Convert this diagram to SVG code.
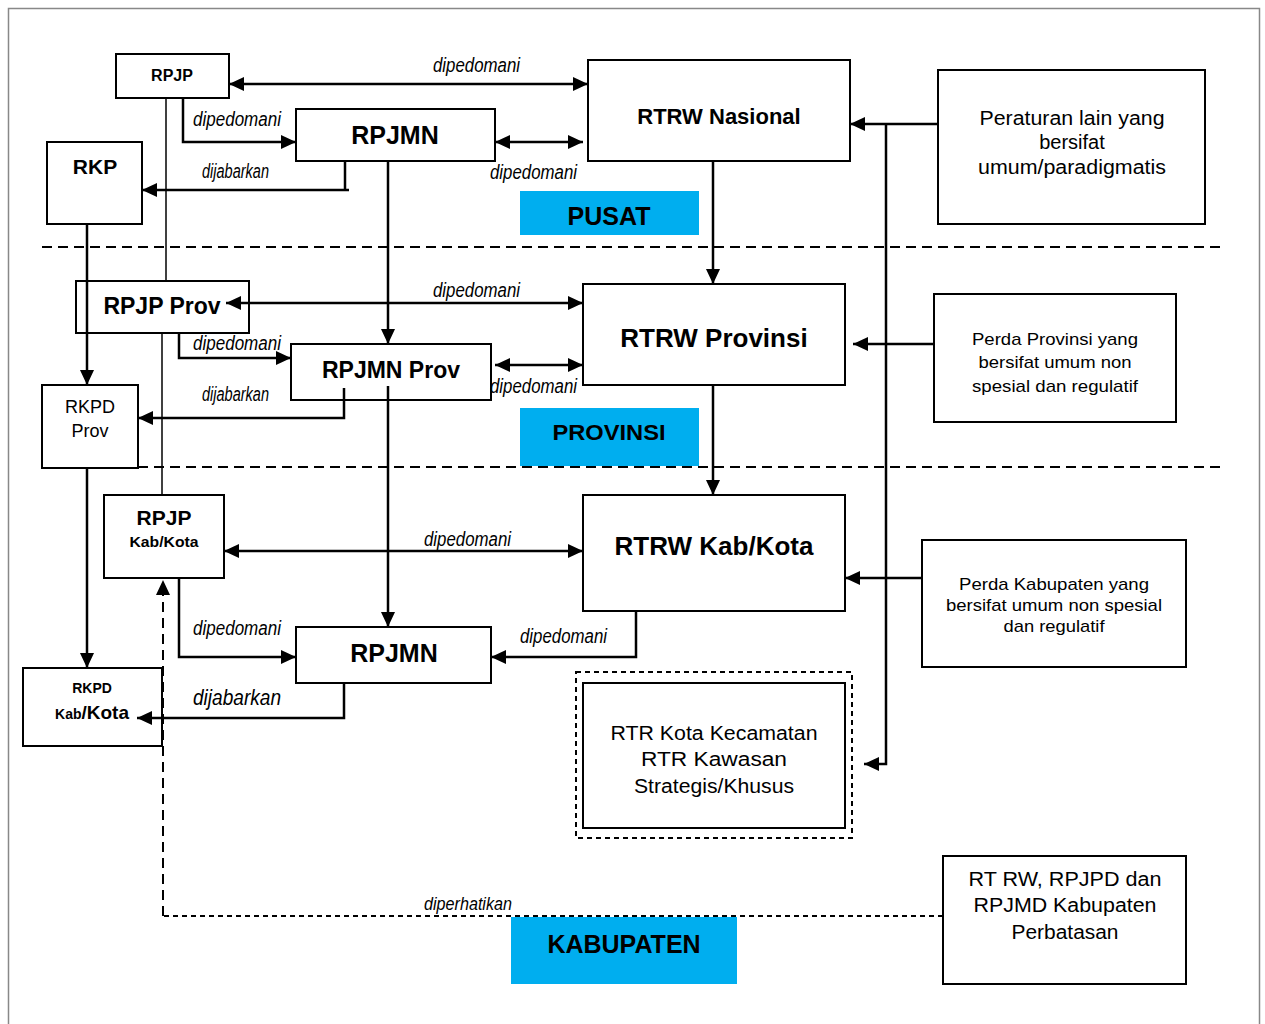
<svg xmlns="http://www.w3.org/2000/svg" width="1265" height="1024" viewBox="0 0 1265 1024">
<style>
.box{fill:#fff;stroke:#000;stroke-width:2}
.blue{fill:#00AEEF}
.t{font-family:"Liberation Sans",Arial,sans-serif;fill:#000;text-anchor:middle}
.b{font-weight:bold}
.lbl{font-family:"Liberation Sans",Arial,sans-serif;font-style:italic;font-size:20px;fill:#000}
.c{fill:none;stroke:#000;stroke-width:2.5}
.thin{fill:none;stroke:#000;stroke-width:1.5}
.dash{fill:none;stroke:#000;stroke-width:2;stroke-dasharray:10 6}
</style>
<defs>
<marker id="a" markerUnits="userSpaceOnUse" markerWidth="16" markerHeight="14" refX="15" refY="7" orient="auto-start-reverse">
<path d="M0,0 L15,7 L0,14 z" fill="#000"/>
</marker>
</defs>
<rect x="8.5" y="8.5" width="1251" height="1030" fill="#fff" stroke="#888" stroke-width="1.5"/>
<line class="dash" x1="42" y1="247" x2="1222" y2="247"/>
<line class="dash" x1="138" y1="467" x2="1222" y2="467"/>

<g id="rpjp"><rect class="box" x="116" y="54" width="113" height="44"/><text class="t b" x="172" y="81" font-size="16">RPJP</text></g>
<g id="rtrw-nasional"><rect class="box" x="588" y="60" width="262" height="101"/><text class="t b" x="719" y="124" font-size="22">RTRW Nasional</text></g>
<g id="rpjmn-pusat"><rect class="box" x="296" y="109" width="199" height="52"/><text class="t b" x="395" y="144" font-size="25">RPJMN</text></g>
<g id="rkp"><rect class="box" x="47" y="142" width="95" height="82"/><text class="t b" x="95" y="174" font-size="21">RKP</text></g>
<g id="peraturan"><rect class="box" x="938" y="70" width="267" height="154"/>
<text class="t" font-size="20"><tspan x="1072" y="125" textLength="185" lengthAdjust="spacingAndGlyphs">Peraturan lain yang</tspan><tspan x="1072" y="149">bersifat</tspan><tspan x="1072" y="174" textLength="188" lengthAdjust="spacingAndGlyphs">umum/paradigmatis</tspan></text></g>
<g id="pusat"><rect class="blue" x="520" y="191" width="179" height="44"/><text class="t b" x="609" y="225" font-size="25">PUSAT</text></g>

<g id="rpjp-prov"><rect class="box" x="76" y="281" width="173" height="52"/><text class="t b" x="162" y="314" font-size="23">RPJP Prov</text></g>
<g id="rtrw-provinsi"><rect class="box" x="583" y="284" width="262" height="101"/><text class="t b" x="714" y="347" font-size="26">RTRW Provinsi</text></g>
<g id="rpjmn-prov"><rect class="box" x="291" y="344" width="200" height="56"/><text class="t b" x="391" y="378" font-size="23">RPJMN Prov</text></g>
<g id="rkpd-prov"><rect class="box" x="42" y="385" width="96" height="83"/><text class="t" font-size="18"><tspan x="90" y="413">RKPD</tspan><tspan x="90" y="437">Prov</tspan></text></g>
<g id="perda-prov"><rect class="box" x="934" y="294" width="242" height="128"/>
<text class="t" font-size="17"><tspan x="1055" y="345" textLength="166" lengthAdjust="spacingAndGlyphs">Perda Provinsi yang</tspan><tspan x="1055" y="368" textLength="153" lengthAdjust="spacingAndGlyphs">bersifat umum non</tspan><tspan x="1055" y="392" textLength="166" lengthAdjust="spacingAndGlyphs">spesial dan regulatif</tspan></text></g>
<g id="provinsi"><rect class="blue" x="520" y="408" width="179" height="58"/><text class="t b" x="609" y="440" font-size="22" textLength="113" lengthAdjust="spacingAndGlyphs">PROVINSI</text></g>

<g id="rpjp-kab"><rect class="box" x="104" y="495" width="120" height="83"/><text class="t b" x="164" y="525" font-size="21">RPJP</text><text class="t b" x="164" y="547" font-size="14" textLength="69" lengthAdjust="spacingAndGlyphs">Kab/Kota</text></g>
<g id="rtrw-kab"><rect class="box" x="583" y="495" width="262" height="116"/><text class="t b" x="714" y="555" font-size="26">RTRW Kab/Kota</text></g>
<g id="perda-kab"><rect class="box" x="922" y="540" width="264" height="127"/>
<text class="t" font-size="17"><tspan x="1054" y="590" textLength="190" lengthAdjust="spacingAndGlyphs">Perda Kabupaten yang</tspan><tspan x="1054" y="611" textLength="216" lengthAdjust="spacingAndGlyphs">bersifat umum non spesial</tspan><tspan x="1054" y="632" textLength="101" lengthAdjust="spacingAndGlyphs">dan regulatif</tspan></text></g>
<g id="rpjmn-kab"><rect class="box" x="296" y="627" width="195" height="56"/><text class="t b" x="394" y="662" font-size="25">RPJMN</text></g>
<g id="rkpd-kab"><rect class="box" x="23" y="668" width="139" height="78"/><text class="t b" x="92" y="693" font-size="14">RKPD</text><text class="t b" x="92" y="719"><tspan font-size="14">Kab</tspan><tspan font-size="19">/Kota</tspan></text></g>
<g id="rtr-kota"><rect x="576" y="672" width="276" height="166" fill="none" stroke="#000" stroke-width="2" stroke-dasharray="5 4"/><rect class="box" x="583" y="683" width="262" height="145"/>
<text class="t" font-size="20"><tspan x="714" y="740" textLength="207" lengthAdjust="spacingAndGlyphs">RTR Kota Kecamatan</tspan><tspan x="714" y="766" textLength="146" lengthAdjust="spacingAndGlyphs">RTR Kawasan</tspan><tspan x="714" y="793" textLength="160" lengthAdjust="spacingAndGlyphs">Strategis/Khusus</tspan></text></g>
<g id="rt-rw"><rect class="box" x="943" y="856" width="243" height="128"/>
<text class="t" font-size="20"><tspan x="1065" y="886" textLength="193" lengthAdjust="spacingAndGlyphs">RT RW, RPJPD dan</tspan><tspan x="1065" y="912" textLength="183" lengthAdjust="spacingAndGlyphs">RPJMD Kabupaten</tspan><tspan x="1065" y="939" textLength="107" lengthAdjust="spacingAndGlyphs">Perbatasan</tspan></text></g>
<g id="kabupaten"><rect class="blue" x="511" y="917" width="226" height="67"/><text class="t b" x="624" y="953" font-size="25">KABUPATEN</text></g>

<g id="connectors">
<path class="c" d="M229,84 H588" marker-start="url(#a)" marker-end="url(#a)"/>
<path class="c" d="M183,98 V142 H296" marker-end="url(#a)"/>
<path class="c" d="M495,142 H583" marker-start="url(#a)" marker-end="url(#a)"/>
<path class="c" d="M345,161 V190"/>
<path class="c" d="M349,190 H142" marker-end="url(#a)"/>
<path class="thin" d="M166,98 V281"/>
<path class="thin" d="M162,333 V495"/>
<path class="c" d="M87,224 V385" marker-end="url(#a)"/>
<path class="c" d="M388,161 V344" marker-end="url(#a)"/>
<path class="c" d="M713,161 V284" marker-end="url(#a)"/>
<path class="c" d="M938,124 H850" marker-end="url(#a)"/>
<path class="c" d="M886,124 V764 H864" marker-end="url(#a)"/>
<path class="c" d="M934,344 H853" marker-end="url(#a)"/>
<path class="c" d="M922,578 H845" marker-end="url(#a)"/>
<path class="c" d="M226,303 H583" marker-start="url(#a)" marker-end="url(#a)"/>
<path class="c" d="M179,333 V358 H291" marker-end="url(#a)"/>
<path class="c" d="M495,365 H583" marker-start="url(#a)" marker-end="url(#a)"/>
<path class="c" d="M344,388 V418 H138" marker-end="url(#a)"/>
<path class="c" d="M388,386 V627" marker-end="url(#a)"/>
<path class="c" d="M713,385 V495" marker-end="url(#a)"/>
<path class="c" d="M87,468 V668" marker-end="url(#a)"/>
<path class="c" d="M224,551 H583" marker-start="url(#a)" marker-end="url(#a)"/>
<path class="c" d="M179,578 V657 H296" marker-end="url(#a)"/>
<path class="c" d="M636,611 V657 H491" marker-end="url(#a)"/>
<path class="c" d="M344,683 V718 H137" marker-end="url(#a)"/>
<path d="M943,916 H163" fill="none" stroke="#000" stroke-width="2" stroke-dasharray="5 4"/>
<path d="M163,916 V580" fill="none" stroke="#000" stroke-width="2" stroke-dasharray="10 6" marker-end="url(#a)"/>
<text class="lbl" x="433" y="72" textLength="87" lengthAdjust="spacingAndGlyphs">dipedomani</text>
<text class="lbl" x="193" y="126" textLength="88" lengthAdjust="spacingAndGlyphs">dipedomani</text>
<text class="lbl" x="490" y="179" textLength="87" lengthAdjust="spacingAndGlyphs">dipedomani</text>
<text class="lbl" x="202" y="178" textLength="67" lengthAdjust="spacingAndGlyphs">dijabarkan</text>
<text class="lbl" x="433" y="297" textLength="87" lengthAdjust="spacingAndGlyphs">dipedomani</text>
<text class="lbl" x="193" y="350" textLength="88" lengthAdjust="spacingAndGlyphs">dipedomani</text>
<text class="lbl" x="490" y="393" textLength="87" lengthAdjust="spacingAndGlyphs">dipedomani</text>
<text class="lbl" x="202" y="401" textLength="67" lengthAdjust="spacingAndGlyphs">dijabarkan</text>
<text class="lbl" x="424" y="546" textLength="87" lengthAdjust="spacingAndGlyphs">dipedomani</text>
<text class="lbl" x="193" y="635" textLength="88" lengthAdjust="spacingAndGlyphs">dipedomani</text>
<text class="lbl" x="520" y="643" textLength="87" lengthAdjust="spacingAndGlyphs">dipedomani</text>
<text class="lbl" x="193" y="705" textLength="88" lengthAdjust="spacingAndGlyphs" style="font-size:22px">dijabarkan</text>
<text class="lbl" x="424" y="910" textLength="88" lengthAdjust="spacingAndGlyphs" style="font-size:18px">diperhatikan</text>
</g>
</svg>
